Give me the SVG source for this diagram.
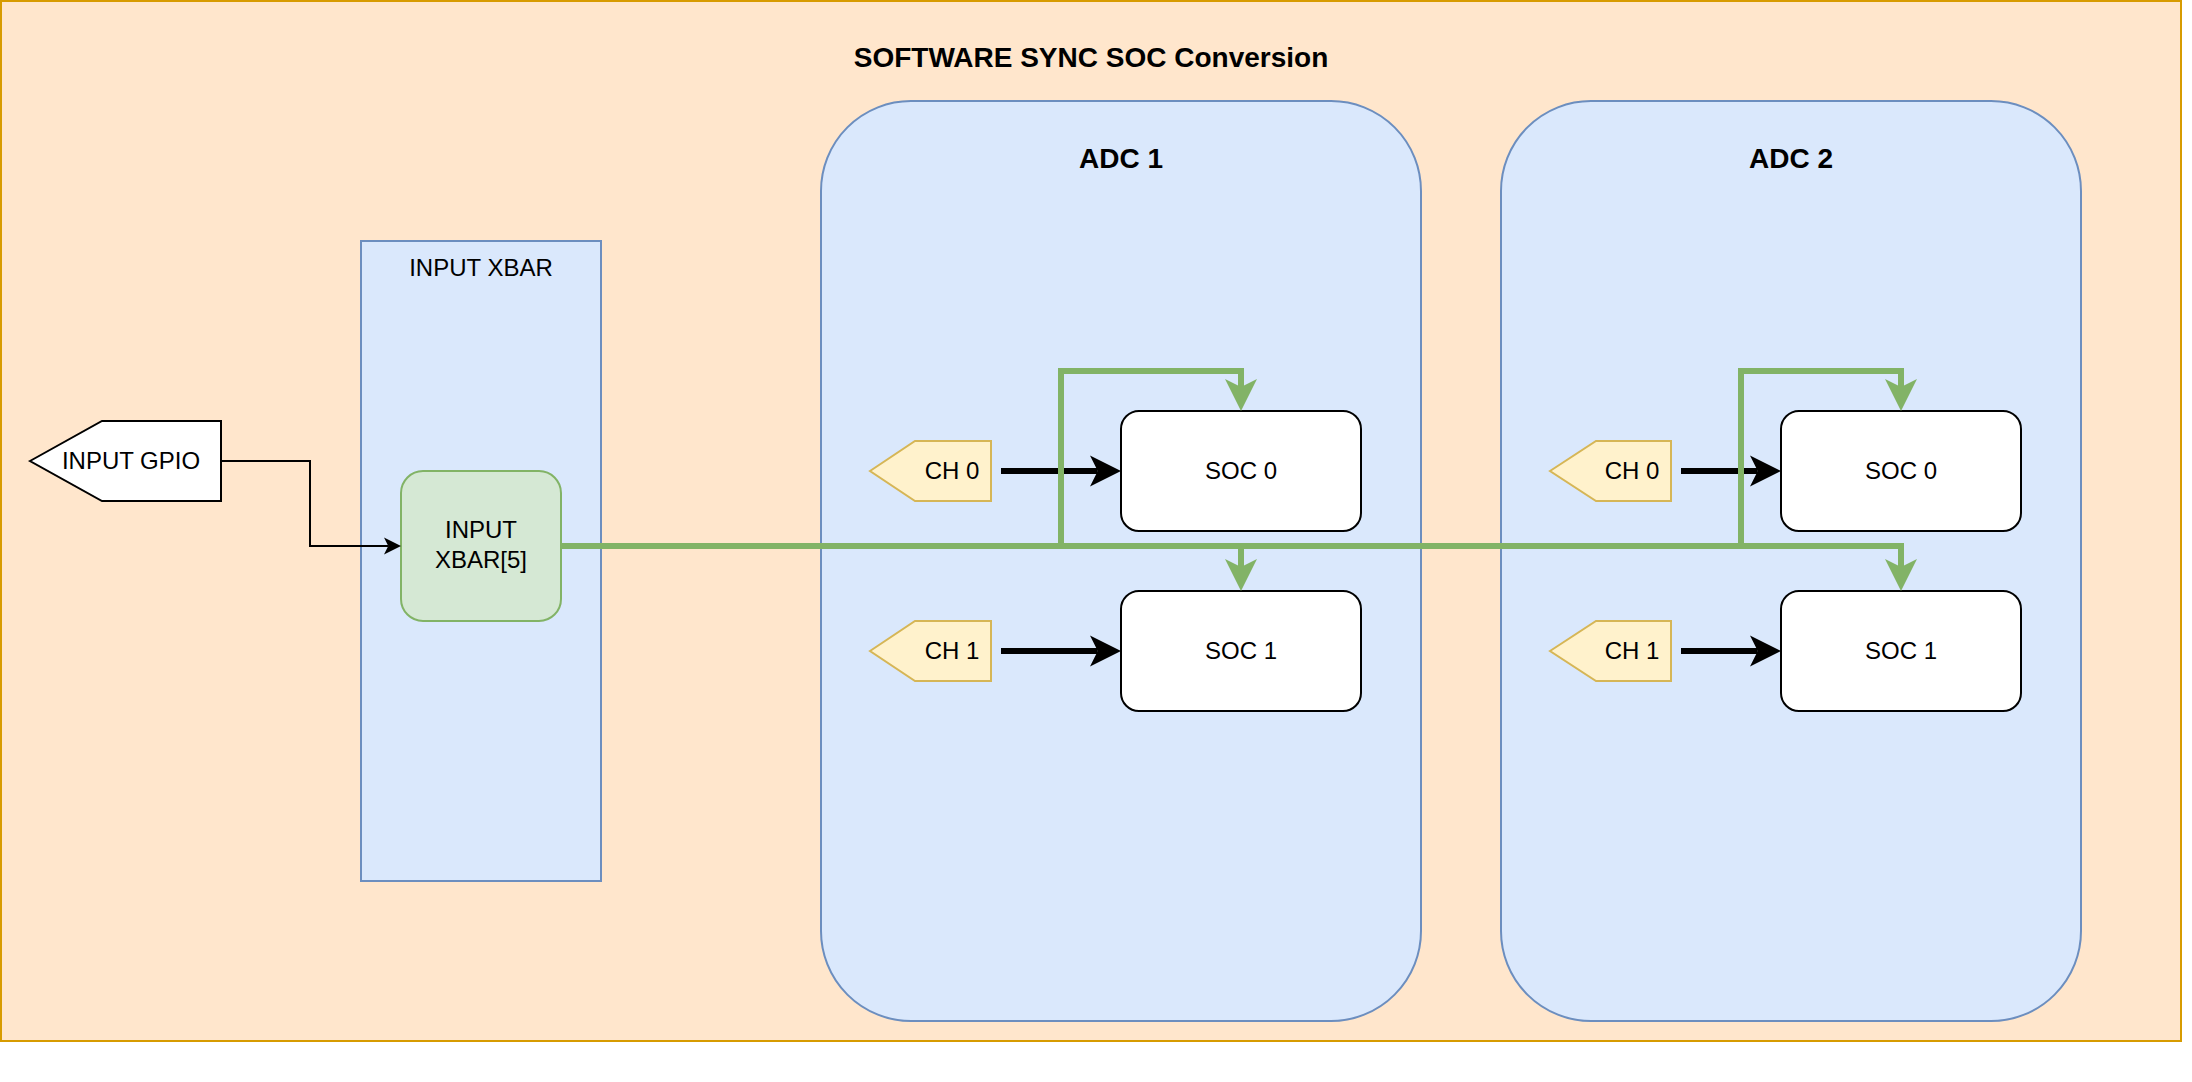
<svg xmlns="http://www.w3.org/2000/svg" width="2192" height="1082" viewBox="0 0 2192 1082">
  <style>
    text { font-family: "Liberation Sans", Arial, sans-serif; fill: #000000; text-anchor: middle; }
    .t24 { font-size: 24px; }
    .b28 { font-size: 28px; font-weight: bold; }
    .outer { fill: #ffe6cc; stroke: #d79b00; stroke-width: 2; }
    .blue { fill: #dae8fc; stroke: #6c8ebf; stroke-width: 2; }
    .green { fill: #d5e8d4; stroke: #82b366; stroke-width: 2; }
    .ch { fill: #fff2cc; stroke: #d6b656; stroke-width: 2; }
    .white { fill: #ffffff; stroke: #000000; stroke-width: 2; }
    .gpio { fill: #ffffff; stroke: #000000; stroke-width: 2; }
    .gline { fill: none; stroke: #82b366; stroke-width: 6; }
    .kline { fill: none; stroke: #000000; stroke-width: 6; }
    .thin { fill: none; stroke: #000000; stroke-width: 2; }
  </style>
  <defs>
    <marker id="arrG" viewBox="-9 -17 34 34" markerWidth="34" markerHeight="34" refX="0" refY="0" markerUnits="userSpaceOnUse" orient="auto">
      <path d="M24,0 L-8,-16 L0,0 L-8,16 Z" fill="#82b366"/>
    </marker>
    <marker id="arrK" viewBox="-9 -17 34 34" markerWidth="34" markerHeight="34" refX="0" refY="0" markerUnits="userSpaceOnUse" orient="auto">
      <path d="M23.25,0 L-7.75,-15.5 L0,0 L-7.75,15.5 Z" fill="#000000"/>
    </marker>
    <marker id="arrS" viewBox="-5 -9 19 18" markerWidth="19" markerHeight="18" refX="0" refY="0" markerUnits="userSpaceOnUse" orient="auto">
      <path d="M12.75,0 L-4.25,-8.5 L0,0 L-4.25,8.5 Z" fill="#000000"/>
    </marker>
  </defs>

  <g id="outer">
    <rect class="outer" x="1" y="1" width="2180" height="1040"/>
    <text class="b28" x="1091" y="67">SOFTWARE SYNC SOC Conversion</text>
  </g>

  <g id="input-xbar">
    <rect class="blue" x="361" y="241" width="240" height="640"/>
    <text class="t24" x="481" y="276">INPUT XBAR</text>
  </g>

  <g id="adc1">
    <rect class="blue" x="821" y="101" width="600" height="920" rx="90" ry="90"/>
    <text class="b28" x="1121" y="168">ADC 1</text>
  </g>

  <g id="adc2">
    <rect class="blue" x="1501" y="101" width="580" height="920" rx="90" ry="90"/>
    <text class="b28" x="1791" y="168">ADC 2</text>
  </g>

  <g id="input-gpio">
    <polygon class="gpio" points="30,461 102,421 221,421 221,501 102,501"/>
    <text class="t24" x="131" y="469">INPUT GPIO</text>
  </g>

  <g id="input-xbar-5">
    <rect class="green" x="401" y="471" width="160" height="150" rx="22" ry="22"/>
    <text class="t24" x="481" y="538">INPUT</text>
    <text class="t24" x="481" y="568">XBAR[5]</text>
  </g>

  <g id="adc1-ch0">
    <polygon class="ch" points="870,471 915,441 991,441 991,501 915,501"/>
    <text class="t24" x="952" y="479">CH 0</text>
  </g>
  <g id="adc1-ch1">
    <polygon class="ch" points="870,651 915,621 991,621 991,681 915,681"/>
    <text class="t24" x="952" y="659">CH 1</text>
  </g>
  <g id="adc1-soc0">
    <rect class="white" x="1121" y="411" width="240" height="120" rx="18" ry="18"/>
    <text class="t24" x="1241" y="479">SOC 0</text>
  </g>
  <g id="adc1-soc1">
    <rect class="white" x="1121" y="591" width="240" height="120" rx="18" ry="18"/>
    <text class="t24" x="1241" y="659">SOC 1</text>
  </g>

  <g id="adc2-ch0">
    <polygon class="ch" points="1550,471 1596,441 1671,441 1671,501 1596,501"/>
    <text class="t24" x="1632" y="479">CH 0</text>
  </g>
  <g id="adc2-ch1">
    <polygon class="ch" points="1550,651 1596,621 1671,621 1671,681 1596,681"/>
    <text class="t24" x="1632" y="659">CH 1</text>
  </g>
  <g id="adc2-soc0">
    <rect class="white" x="1781" y="411" width="240" height="120" rx="18" ry="18"/>
    <text class="t24" x="1901" y="479">SOC 0</text>
  </g>
  <g id="adc2-soc1">
    <rect class="white" x="1781" y="591" width="240" height="120" rx="18" ry="18"/>
    <text class="t24" x="1901" y="659">SOC 1</text>
  </g>

  <g id="connectors">
    <path class="thin" d="M221,461 H310 V546 H388.25" marker-end="url(#arrS)"/>
    <path class="kline" d="M1001,471 H1097.75" marker-end="url(#arrK)"/>
    <path class="kline" d="M1001,651 H1097.75" marker-end="url(#arrK)"/>
    <path class="kline" d="M1681,471 H1757.75" marker-end="url(#arrK)"/>
    <path class="kline" d="M1681,651 H1757.75" marker-end="url(#arrK)"/>
    <path class="gline" d="M561,546 H1061 V371 H1241 V387" marker-end="url(#arrG)"/>
    <path class="gline" d="M561,546 H1241 V567" marker-end="url(#arrG)"/>
    <path class="gline" d="M561,546 H1741 V371 H1901 V387" marker-end="url(#arrG)"/>
    <path class="gline" d="M561,546 H1901 V567" marker-end="url(#arrG)"/>
  </g>
</svg>
